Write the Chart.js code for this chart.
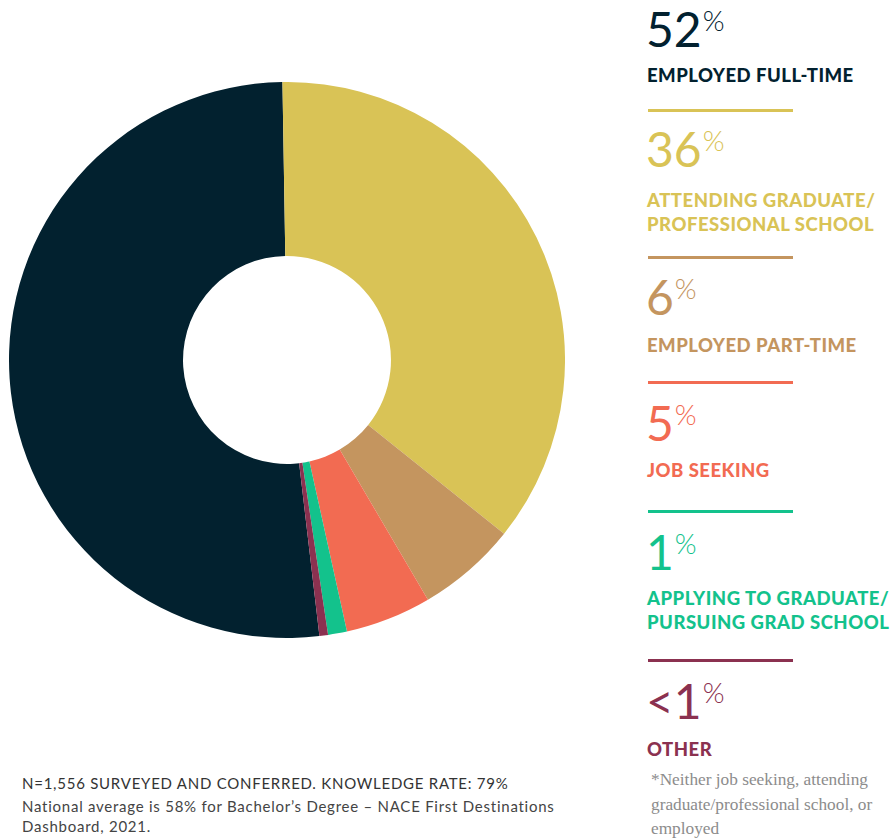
<!DOCTYPE html>
<html>
<head>
<meta charset="utf-8">
<script src="https://cdn.jsdelivr.net/npm/chart.js@4.4.0/dist/chart.umd.min.js"></script>
<style>
  body { margin: 0; background: #fff; font-family: Lato, sans-serif; }
  #wrap { position: relative; width: 894px; height: 840px; overflow: hidden; }
  #chartBox { position: absolute; left: 9px; top: 82px; width: 556px; height: 556px; }
  .num { position: absolute; left: 646px; font-size: 48px; line-height: 48px; font-weight: 400; white-space: nowrap; }
  .num sup { display: inline-block; font-size: 28px; line-height: 28px; vertical-align: top; position: relative; top: 1px; margin-left: 1px; font-weight: 300; }
  .lbl { position: absolute; left: 647px; font-size: 18.5px; line-height: 24px; font-weight: 900; letter-spacing: 0.5px; white-space: nowrap; }
  .rule { position: absolute; left: 648px; width: 145px; height: 3px; }
  .note { position: absolute; left: 651px; top: 768px; font-family: "Liberation Serif", serif; font-size: 17.3px; line-height: 24.5px; color: #8c8c8c; white-space: nowrap; }
  .foot { position: absolute; left: 22px; color: #333; font-size: 15px; line-height: 20px; letter-spacing: 0.75px; white-space: nowrap; }
</style>
</head>
<body>
<div id="wrap">
  <div id="chartBox"><canvas id="donut"></canvas></div>
  <div id="legend"></div>
  <div class="note">*Neither job seeking, attending<br>graduate/professional school, or<br>employed</div>
  <div class="foot" style="top:773px;">N=1,556 SURVEYED AND CONFERRED. KNOWLEDGE RATE: 79%</div>
  <div class="foot" style="top:796px;color:#444;">National average is 58% for Bachelor’s Degree – NACE First Destinations<br>Dashboard, 2021.</div>
</div>
<script>
// Categorias e valores
const categories = [
    ['EMPLOYED FULL-TIME'],
    ['ATTENDING GRADUATE/', 'PROFESSIONAL SCHOOL'],
    ['EMPLOYED PART-TIME'],
    ['JOB SEEKING'],
    ['APPLYING TO GRADUATE/', 'PURSUING GRAD SCHOOL'],
    ['OTHER']
];
const values = [51.6, 36, 5.8, 5, 1.1, 0.5];
const shownLabels = ['52', '36', '6', '5', '1', '<1'];
const colors = ['#02212f', '#d9c356', '#c4955f', '#f26b52', '#13c28c', '#8b3150'];

// posições do texto da legenda (layout)
const numTops = [5, 125, 273, 399, 528, 677];
const lblTops = [63, 188, 333, 458, 586, 737];
const ruleTops = [109, 256, 381, 510, 659];

function buildLegend() {
    const box = document.getElementById('legend');
    let html = '';
    categories.forEach(function(cat, i) {
        html += '<div class="num" style="top:' + numTops[i] + 'px;color:' + colors[i] + '">' +
            shownLabels[i].replace('<', '&lt;') + '<sup>%</sup></div>';
        html += '<div class="lbl" style="top:' + lblTops[i] + 'px;color:' + colors[i] + '">' +
            cat.join('<br>') + '</div>';
        if (i < ruleTops.length) {
            html += '<div class="rule" style="top:' + ruleTops[i] + 'px;background:' + colors[i + 1] + '"></div>';
        }
    });
    box.innerHTML = html;
}

function initDonut() {
    const ctx = document.getElementById('donut').getContext('2d');
    new Chart(ctx, {
        type: 'doughnut',
        data: {
            labels: categories.map(function(c) { return c.join(' '); }),
            datasets: [{
                data: values,
                backgroundColor: colors,
                borderWidth: 0
            }]
        },
        options: {
            responsive: true,
            maintainAspectRatio: false,
            animation: false,
            cutout: '37.4%',
            rotation: 173.3,
            layout: { padding: 0 },
            plugins: {
                legend: { display: false },
                tooltip: { enabled: false }
            }
        }
    });
}

buildLegend();
initDonut();
</script>
</body>
</html>
